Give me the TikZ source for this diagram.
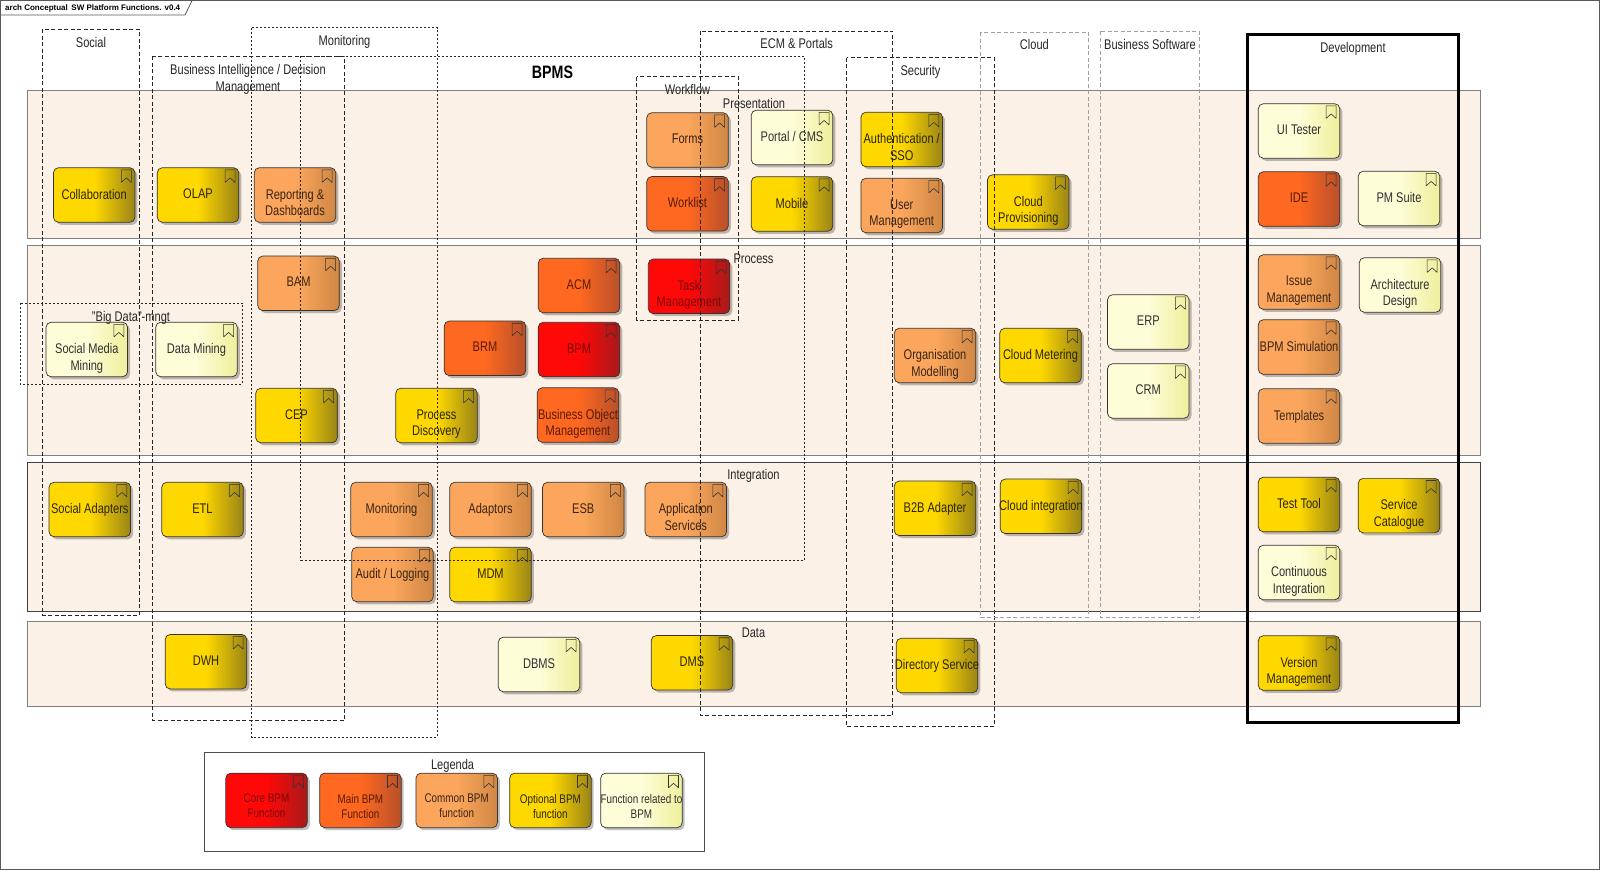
\documentclass[tikz,border=0pt]{standalone}
\usepackage{fontspec}
\setmainfont{Liberation Sans}[FakeStretch=0.79]
\newfontfamily\titlefont{Liberation Sans}
\usetikzlibrary{shadows}
\definecolor{lanefill}{HTML}{FBF1E6}
\definecolor{coreL}{HTML}{FF0808}\definecolor{coreR}{HTML}{A81A1A}\definecolor{coreT}{HTML}{7A0A0A}
\definecolor{mainL}{HTML}{FF6820}\definecolor{mainR}{HTML}{B8502A}\definecolor{mainT}{HTML}{5A1A05}
\definecolor{comL}{HTML}{FBA65C}\definecolor{comR}{HTML}{D08744}\definecolor{comT}{HTML}{3A2414}
\definecolor{optL}{HTML}{FFD800}\definecolor{optR}{HTML}{9A8416}\definecolor{optT}{HTML}{2A2406}
\definecolor{relL}{HTML}{FDFDD8}\definecolor{relR}{HTML}{EFEF9C}\definecolor{relT}{HTML}{303030}
\tikzset{
  fn/.style={rounded corners=5pt, draw=black!80, line width=0.7pt, minimum width=81.5pt,
    minimum height=54.5pt, inner sep=0pt,
    drop shadow={shadow xshift=2.5pt, shadow yshift=-2.5pt, fill=black, opacity=0.25}},
  core/.style={fn, left color=coreL, right color=coreR, middle color=coreL},
  main/.style={fn, left color=mainL, right color=mainR, middle color=mainL},
  com/.style={fn, left color=comL, right color=comR, middle color=comL},
  opt/.style={fn, left color=optL, right color=optR, middle color=optL},
  rel/.style={fn, left color=relL, right color=relR, middle color=relL},
  coretxt/.style={text=coreT}, maintxt/.style={text=mainT}, comtxt/.style={text=comT},
  opttxt/.style={text=optT}, reltxt/.style={text=relT},
  fntext/.style={anchor=north, yshift=6.2pt, align=center, inner sep=0pt, font=\fontsize{14}{16.5}\selectfont},
  legtext/.style={anchor=north, yshift=6.6pt, align=center, inner sep=0pt, font=\fontsize{12.5}{15}\selectfont},
  lbl/.style={anchor=base, inner sep=0pt, text=black!85, font=\fontsize{14}{16.5}\selectfont},
  icon/.style={draw=black!80, line width=0.6pt, line join=round},
  lane/.style={fill=lanefill, draw=black!50, line width=0.8pt},
  grpA/.style={draw=black!85, dash pattern=on 4pt off 2.5pt, line width=0.7pt},
  grpB/.style={draw=black!85, dash pattern=on 2pt off 2pt, line width=0.6pt},
  grpC/.style={draw=gray!75, dash pattern=on 4pt off 2.5pt, line width=0.9pt},
}
\newcommand\fnb[5][fntext]{\node[#2] (#3) at (#4) {};\node[#1,#2txt] (#3-t) at (#3.center) {#5};}
\begin{document}
\begin{tikzpicture}[x=1pt,y=-1pt]
\useasboundingbox (0,0) rectangle (1600,870);
\fill[white] (0,0) rectangle (1600,870);
% frame and title tab
\draw[black!65, line width=0.8pt] (0.6,0.6) rectangle (1599.4,869.4);
\draw[black!65, line width=0.8pt] (0.6,15) -- (185,15) -- (192,0.6);
\node[anchor=west, inner sep=0pt, font=\titlefont\bfseries\fontsize{8}{9}\selectfont] (title) at (5,8.3) {arch Conceptual\, SW Platform Functions. v0.4};
% lanes
\draw[lane] (27,90.5) rectangle (1480,238);
\draw[lane] (27,245) rectangle (1480,455);
\draw[lane, draw=black!75] (27,462) rectangle (1480,611.7);
\draw[lane] (27,621) rectangle (1480,706);
\node[lbl] (l-pres) at (754,108) {Presentation};
\node[lbl] (l-proc) at (753.5,263) {Process};
\node[lbl] (l-int) at (753.5,479) {Integration};
\node[lbl] (l-data) at (753.5,637) {Data};
% presentation
\fnb{opt}{collab}{94.2,195}{Collaboration}
\fnb{opt}{olap}{198,195}{OLAP}
\fnb{com}{report}{295,195}{Reporting \&\\Dashboards}
\fnb{com}{forms}{687.5,140}{Forms}
\fnb{main}{worklist}{687.5,203.8}{Worklist}
\fnb{rel}{portal}{792,137.5}{Portal / CMS}
\fnb{opt}{mobile}{792,204}{Mobile}
\fnb{opt}{auth}{901.7,139.5}{Authentication /\\SSO}
\fnb{com}{userm}{901.7,205.5}{User\\Management}
\fnb{opt}{cprov}{1028.3,202}{Cloud\\Provisioning}
\fnb{rel}{uitest}{1299,131}{UI Tester}
\fnb{main}{ide}{1299,199}{IDE}
\fnb{rel}{pmsuite}{1399,198.5}{PM Suite}
% process
\fnb{rel}{smm}{86.8,349.5}{Social Media\\Mining}
\fnb{rel}{dmining}{196.5,349.5}{Data Mining}
\fnb{com}{bam}{298.5,283.3}{BAM}
\fnb{opt}{cep}{296.5,415.5}{CEP}
\fnb{opt}{pdisc}{436.5,415.5}{Process\\Discovery}
\fnb{main}{brm}{485,348.3}{BRM}
\fnb{main}{acm}{579,285.5}{ACM}
\fnb{core}{bpm}{579,349.5}{BPM}
\fnb{main}{bom}{578,415}{Business Object\\Management}
\fnb{core}{taskm}{689,286.3}{Task\\Management}
\fnb{com}{orgm}{935,355.5}{Organisation\\Modelling}
\fnb{opt}{cmeter}{1040.5,355.5}{Cloud Metering}
\fnb{rel}{erp}{1148.3,322}{ERP}
\fnb{rel}{crm}{1148.3,391}{CRM}
\fnb{com}{issue}{1299,282}{Issue\\Management}
\fnb{rel}{arch}{1400,285}{Architecture\\Design}
\fnb{com}{bpmsim}{1299,347}{BPM Simulation}
\fnb{com}{templ}{1299,416}{Templates}
% integration
\fnb{opt}{sadapt}{89.8,509.5}{Social Adapters}
\fnb{opt}{etl}{202.5,509.5}{ETL}
\fnb{com}{monit}{391.5,509.5}{Monitoring}
\fnb{com}{audit}{392.5,574.5}{Audit / Logging}
\fnb{com}{adapt}{490.5,509.5}{Adaptors}
\fnb{opt}{mdm}{490.5,574.5}{MDM}
\fnb{com}{esb}{583.3,509.5}{ESB}
\fnb{com}{appsvc}{685.8,509.5}{Application\\Services}
\fnb{opt}{b2b}{935,508.3}{B2B Adapter}
\fnb{opt}{cint}{1041,506.3}{Cloud integration}
\fnb{opt}{testt}{1299,504.5}{Test Tool}
\fnb{opt}{svccat}{1399,505.6}{Service\\Catalogue}
\fnb{rel}{ci}{1299,572.5}{Continuous\\Integration}
% data
\fnb{opt}{dwh}{206,661.7}{DWH}
\fnb{rel}{dbms}{539,664.5}{DBMS}
\fnb{opt}{dms}{692,662.8}{DMS}
\fnb{opt}{dirsvc}{937,665.5}{Directory Service}
\fnb{opt}{vm}{1299,663}{Version\\Management}
% legend
\draw[black!70, line width=0.8pt] (204.3,752.5) rectangle (704,851);
\node[lbl] (l-leg) at (452.6,769) {Legenda};
\fnb[legtext]{core}{lg1}{266.5,800.4}{Core BPM\\Function}
\fnb[legtext]{main}{lg2}{360.4,800.4}{Main BPM\\Function}
\fnb[legtext]{com}{lg3}{456.7,800.4}{Common BPM\\function}
\fnb[legtext]{opt}{lg4}{550.4,800.4}{Optional BPM\\function}
\fnb[legtext]{rel}{lg5}{641.4,800.4}{Function related to\\BPM}
% bookmark icons
\foreach \n in {collab,olap,report,forms,worklist,portal,mobile,auth,userm,cprov,uitest,ide,pmsuite,
  smm,dmining,bam,cep,pdisc,brm,acm,bpm,bom,taskm,orgm,cmeter,erp,crm,issue,arch,bpmsim,templ,
  sadapt,etl,monit,audit,adapt,mdm,esb,appsvc,b2b,cint,testt,svccat,ci,dwh,dbms,dms,dirsvc,vm,
  lg1,lg2,lg3,lg4,lg5}
  \draw[icon] ([xshift=-14pt,yshift=-2.5pt]\n.north east) -- ++(10pt,0pt) -- ++(0pt,-12.5pt)
     -- ++(-5pt,4.5pt) -- ++(-5pt,-4.5pt) -- cycle;
% groups
\draw[grpA] (42.7,29.3) rectangle (139.3,615);
\node[lbl] (g-social) at (91,47) {Social};
\draw[grpB] (251.7,27.7) rectangle (437.3,737);
\node[lbl] (g-monit) at (344.5,45) {Monitoring};
\draw[grpA] (152.7,56) rectangle (344.3,720.7);
\node[anchor=north, align=center, inner sep=0pt, text=black!85, font=\fontsize{14}{17}\selectfont] (g-bi) at (248,63.8) {Business Intelligence / Decision\\Management};
\draw[grpB] (300.7,56) rectangle (804.3,560);
\node[anchor=base, inner sep=0pt, font=\bfseries\fontsize{18}{20}\selectfont] (g-bpms) at (552.5,78) {BPMS};
\draw[grpA] (700.7,31) rectangle (892.7,715.7);
\node[lbl] (g-ecm) at (796.7,48) {ECM \& Portals};
\draw[grpA] (636.7,76.7) rectangle (738.3,320);
\node[lbl] (g-wf) at (687.5,94) {Workflow};
\draw[grpA] (846.7,57.7) rectangle (994.3,726.7);
\node[lbl] (g-sec) at (920.5,75) {Security};
\draw[grpC] (980.5,32) rectangle (1088.3,617);
\node[lbl] (g-cloud) at (1034.4,49) {Cloud};
\draw[grpC] (1100.7,31) rectangle (1199.2,617.3);
\node[lbl] (g-bsw) at (1150,49) {Business Software};
\draw[grpB] (20,303.3) rectangle (242.7,384);
\node[lbl] (g-bigdata) at (131,321) {"Big Data"-mngt};
\draw[black, line width=3pt] (1247.5,34.3) rectangle (1458.3,722.3);
\node[lbl] (g-dev) at (1353,52) {Development};
\end{tikzpicture}
\end{document}
